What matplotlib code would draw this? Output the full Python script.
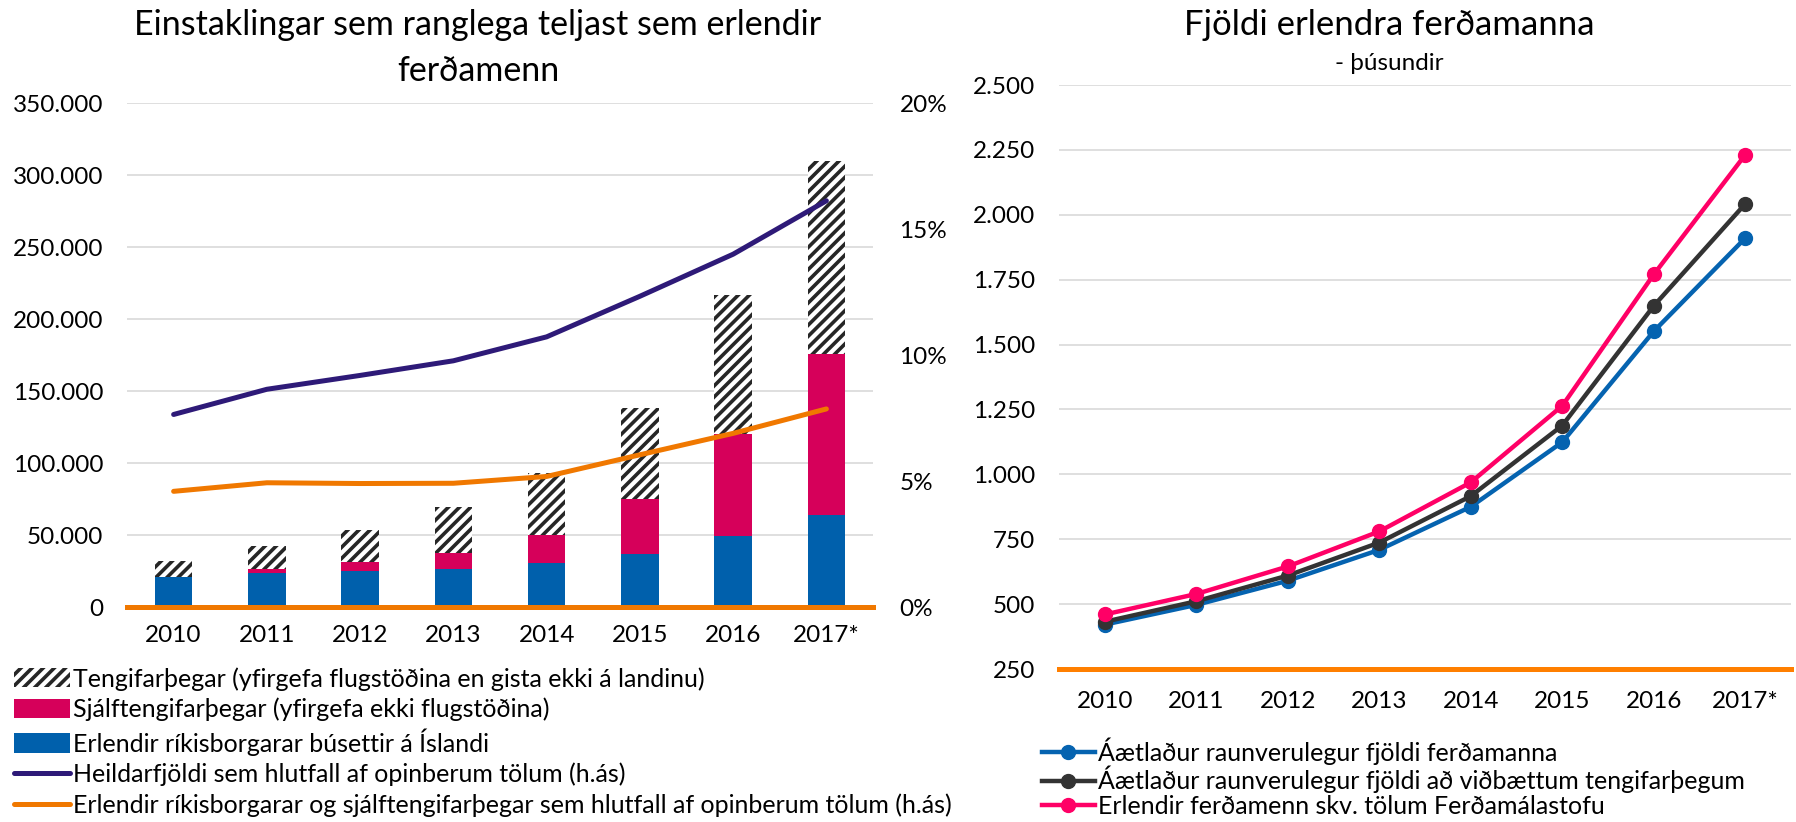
import matplotlib
matplotlib.use('Agg')
import matplotlib.pyplot as plt
from matplotlib.patches import Patch
from matplotlib.lines import Line2D
from matplotlib.ticker import FuncFormatter, MultipleLocator

plt.rcParams['font.family'] = ['Lato', 'DejaVu Sans']
plt.rcParams['hatch.linewidth'] = 2.6

# Data
years = ['2010', '2011', '2012', '2013', '2014', '2015', '2016', '2017*']

# Left chart: stacked bars (persons)
residents = [20600, 23600, 24900, 26100, 30600, 36800, 49000, 64100]
self_transfer = [0, 2500, 6200, 11700, 19100, 38000, 71100, 111400]
transfer = [11200, 16200, 22600, 31300, 43500, 63200, 96900, 134000]

# Left chart: shares on secondary axis (%)
total_share = [7.64, 8.64, 9.19, 9.77, 10.72, 12.33, 14.0, 16.12]
resid_self_share = [4.59, 4.93, 4.90, 4.91, 5.18, 6.04, 6.89, 7.86]

# Right chart: tourists (thousands)
est_actual = [421, 497, 590, 709, 875, 1124, 1551, 1910]
est_with_transfer = [432, 511, 610, 737, 916, 1188, 1649, 2042]
official = [460, 539, 645, 780, 969, 1264, 1770, 2231]

c_blue = '#0060AC'
c_pink = '#D6005A'
c_purple = '#2E1A78'
c_orange = '#F07800'
c_grid = '#D9D9D9'
c_hatch = '#262626'
c_rblue = '#0563B0'
c_dark = '#333333'
c_rpink = '#FF0066'
c_rorange = '#FF7F00'

W, H = 1796, 822
fig = plt.figure(figsize=(W / 100, H / 100), dpi=100)


def thousands(v, pos):
    return f'{int(round(v)):,}'.replace(',', '.')


tick_fs = 17.5
leg_fs = 18

# ---------------- Left chart ----------------
ax = fig.add_axes([127 / W, (H - 607) / H, 746 / W, 504 / H])
x = list(range(len(years)))
ax.bar(x, residents, width=0.4, color=c_blue, zorder=2)
bottom2 = [r for r in residents]
ax.bar(x, self_transfer, width=0.4, bottom=bottom2, color=c_pink, zorder=2)
bottom3 = [r + s for r, s in zip(residents, self_transfer)]
ax.bar(x, transfer, width=0.4, bottom=bottom3, color='white', edgecolor=c_hatch,
       hatch='///', linewidth=0, zorder=2)

ax.set_xlim(-0.5, len(years) - 0.5)
ax.set_ylim(0, 350000)
ax.yaxis.set_major_locator(MultipleLocator(50000))
ax.yaxis.set_major_formatter(FuncFormatter(thousands))
ax.grid(axis='y', color=c_grid, linewidth=1.2, zorder=0)
ax.set_axisbelow(True)
for s in ['top', 'right', 'left']:
    ax.spines[s].set_visible(False)
ax.spines['bottom'].set_color(c_orange)
ax.spines['bottom'].set_linewidth(3.6)
ax.spines['bottom'].set_zorder(5)
ax.set_xticks(x)
ax.set_xticklabels(years)
ax.tick_params(axis='both', length=0, labelsize=tick_fs)
ax.tick_params(axis='x', pad=13)
ax.tick_params(axis='y', pad=17)

ax2 = ax.twinx()
ax2.set_ylim(0, 0.20)
ax2.yaxis.set_major_locator(MultipleLocator(0.05))
ax2.yaxis.set_major_formatter(FuncFormatter(lambda v, p: f'{v * 100:.0f}%'))
for s in ['top', 'right', 'left', 'bottom']:
    ax2.spines[s].set_visible(False)
ax2.tick_params(axis='y', length=0, labelsize=tick_fs, pad=19)
ax2.plot(x, [v / 100 for v in total_share], color=c_purple, linewidth=3.6,
         solid_capstyle='round', zorder=3)
ax2.plot(x, [v / 100 for v in resid_self_share], color=c_orange, linewidth=3.6,
         solid_capstyle='round', zorder=3)

fig.text(478 / W, 1 - 25 / H, 'Einstaklingar sem ranglega teljast sem erlendir',
         ha='center', va='center', fontsize=24.5)
fig.text(478 / W, 1 - 71 / H, 'ferðamenn', ha='center', va='center', fontsize=24.5)

left_handles = [
    Patch(facecolor='white', edgecolor=c_hatch, hatch='///', linewidth=0),
    Patch(facecolor=c_pink, linewidth=0),
    Patch(facecolor=c_blue, linewidth=0),
    Line2D([], [], color=c_purple, linewidth=3.6, solid_capstyle='round'),
    Line2D([], [], color=c_orange, linewidth=3.6, solid_capstyle='round'),
]
left_labels = [
    'Tengifarþegar (yfirgefa flugstöðina en gista ekki á landinu)',
    'Sjálftengifarþegar (yfirgefa ekki flugstöðina)',
    'Erlendir ríkisborgarar búsettir á Íslandi',
    'Heildarfjöldi sem hlutfall af opinberum tölum (h.ás)',
    'Erlendir ríkisborgarar og sjálftengifarþegar sem hlutfall af opinberum tölum (h.ás)',
]
fig.legend(left_handles, left_labels, loc='upper left',
           bbox_to_anchor=(14 / W, 1 - 667 / H), frameon=False, fontsize=leg_fs,
           borderpad=0, borderaxespad=0, handlelength=2.25, handleheight=0.8,
           handletextpad=0.1, labelspacing=0.28)

# ---------------- Right chart ----------------
bx = fig.add_axes([1059 / W, (H - 669) / H, 732 / W, 584 / H])
bx.plot(x, est_actual, color=c_rblue, linewidth=3.2, marker='o', markersize=10, zorder=3)
bx.plot(x, est_with_transfer, color=c_dark, linewidth=3.2, marker='o', markersize=10, zorder=4)
bx.plot(x, official, color=c_rpink, linewidth=3.2, marker='o', markersize=10, zorder=5)
bx.set_xlim(-0.5, len(years) - 0.5)
bx.set_ylim(250, 2500)
bx.yaxis.set_major_locator(MultipleLocator(250))
bx.yaxis.set_major_formatter(FuncFormatter(thousands))
bx.grid(axis='y', color=c_grid, linewidth=1.2, zorder=0)
bx.set_axisbelow(True)
for s in ['top', 'right', 'left']:
    bx.spines[s].set_visible(False)
bx.spines['bottom'].set_color(c_rorange)
bx.spines['bottom'].set_linewidth(3.6)
bx.set_xticks(x)
bx.set_xticklabels(years)
bx.tick_params(axis='both', length=0, labelsize=tick_fs)
bx.tick_params(axis='x', pad=16)
bx.tick_params(axis='y', pad=17)

fig.text(1389 / W, 1 - 25 / H, 'Fjöldi erlendra ferðamanna', ha='center', va='center', fontsize=25)
fig.text(1389 / W, 1 - 63 / H, '- þúsundir', ha='center', va='center', fontsize=17.5)

right_handles = [
    Line2D([], [], color=c_rblue, linewidth=3.2, marker='o', markersize=10),
    Line2D([], [], color=c_dark, linewidth=3.2, marker='o', markersize=10),
    Line2D([], [], color=c_rpink, linewidth=3.2, marker='o', markersize=10),
]
right_labels = [
    'Áætlaður raunverulegur fjöldi ferðamanna',
    'Áætlaður raunverulegur fjöldi að viðbættum tengifarþegum',
    'Erlendir ferðamenn skv. tölum Ferðamálastofu',
]
fig.legend(right_handles, right_labels, loc='upper left',
           bbox_to_anchor=(1042 / W, 1 - 737 / H), frameon=False, fontsize=leg_fs,
           borderpad=0, borderaxespad=0, handlelength=2.1,
           handletextpad=0.12, labelspacing=0.05)

fig.savefig('out.png', dpi=100)
